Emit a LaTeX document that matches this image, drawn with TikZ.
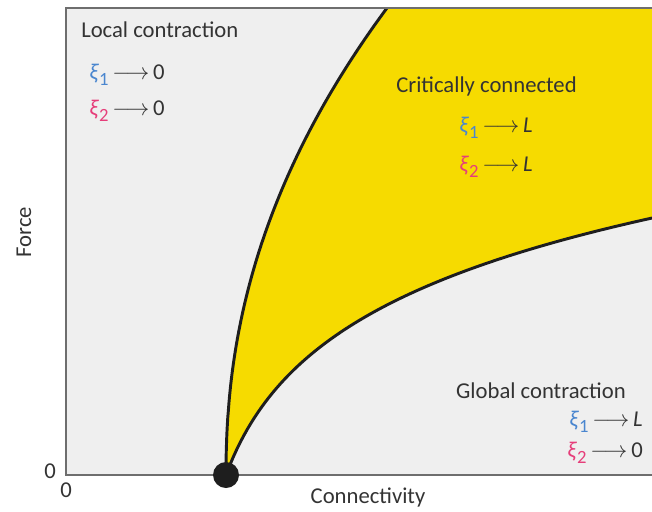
\documentclass[tikz,border=0pt]{standalone}
\usepackage{fontspec}
\setmainfont{Carlito}
\usepackage{xcolor}
\usepackage{tikz}
\usetikzlibrary{arrows.meta}
\definecolor{PhaseGray}{HTML}{EFEFEF}
\definecolor{PhaseYellow}{HTML}{F6DB00}
\definecolor{PhaseInk}{HTML}{1E1E1E}
\definecolor{PhaseFrame}{HTML}{6E6E6E}
\definecolor{PhaseText}{HTML}{333333}
\definecolor{XiBlue}{HTML}{4A86CF}
\definecolor{XiPink}{HTML}{E63E7A}
\newcommand{\xione}{\textcolor{XiBlue}{\textit{ξ}\raisebox{-0.5ex}{\fontsize{14}{14}\selectfont 1}}}
\newcommand{\xitwo}{\textcolor{XiPink}{\textit{ξ}\raisebox{-0.5ex}{\fontsize{14}{14}\selectfont 2}}}
\newcommand{\tendsto}{\,$\longrightarrow$\,}

\begin{document}
\begin{tikzpicture}[x=0.75pt,y=-0.75pt,>=Latex,
  phasetext/.style={PhaseText,inner sep=0pt,font=\fontsize{17}{20}\selectfont}]
  \useasboundingbox (0,0) rectangle (652,511);
  \fill[PhaseGray] (66,8) rectangle (652,475);
  % yellow band between the two boundaries
  \fill[PhaseYellow]
    plot[domain=0:467,samples=90] ({226+161*(\x/467)^2.15},{475-\x})
    -- (652,8) -- (652,218)
    -- plot[domain=426:0,samples=120] ({226+\x},{475-102.7*ln(1+\x/38)})
    -- cycle;
  \draw[PhaseInk,line width=2.2pt]
    plot[domain=0:467,samples=90] ({226+161*(\x/467)^2.15},{475-\x});
  \draw[PhaseInk,line width=2.2pt]
    plot[domain=426:0,samples=120] ({226+\x},{475-102.7*ln(1+\x/38)});
  \draw[PhaseFrame,line width=1.2pt] (652,8) -- (66,8) -- (66,475) -- (652,475);
  \fill[PhaseInk] (226,475) circle (9.75pt);
  \node[phasetext,anchor=west] (local) at (81,30) {Local contraction};
  \node[phasetext,anchor=west] (localone) at (89,75) {\xione\tendsto 0};
  \node[phasetext,anchor=west] (localtwo) at (89,111) {\xitwo\tendsto 0};
  \node[phasetext,anchor=west] (critical) at (396,86) {Critically connected};
  \node[phasetext,anchor=west] (criticalone) at (459,128) {\xione\tendsto\textit{L}};
  \node[phasetext,anchor=west] (criticaltwo) at (459,167) {\xitwo\tendsto\textit{L}};
  \node[phasetext,anchor=east] (global) at (626,391) {Global contraction};
  \node[phasetext,anchor=east] (globalone) at (643,422) {\xione\tendsto\textit{L}};
  \node[phasetext,anchor=east] (globaltwo) at (643,453) {\xitwo\tendsto 0};
  \node[phasetext,rotate=90] (force) at (24,232) {Force};
  \node[phasetext] (connectivity) at (368,497) {Connectivity};
  \node[phasetext] (forcezero) at (50,471) {0};
  \node[phasetext] (connzero) at (66,490) {0};
\end{tikzpicture}
\end{document}
